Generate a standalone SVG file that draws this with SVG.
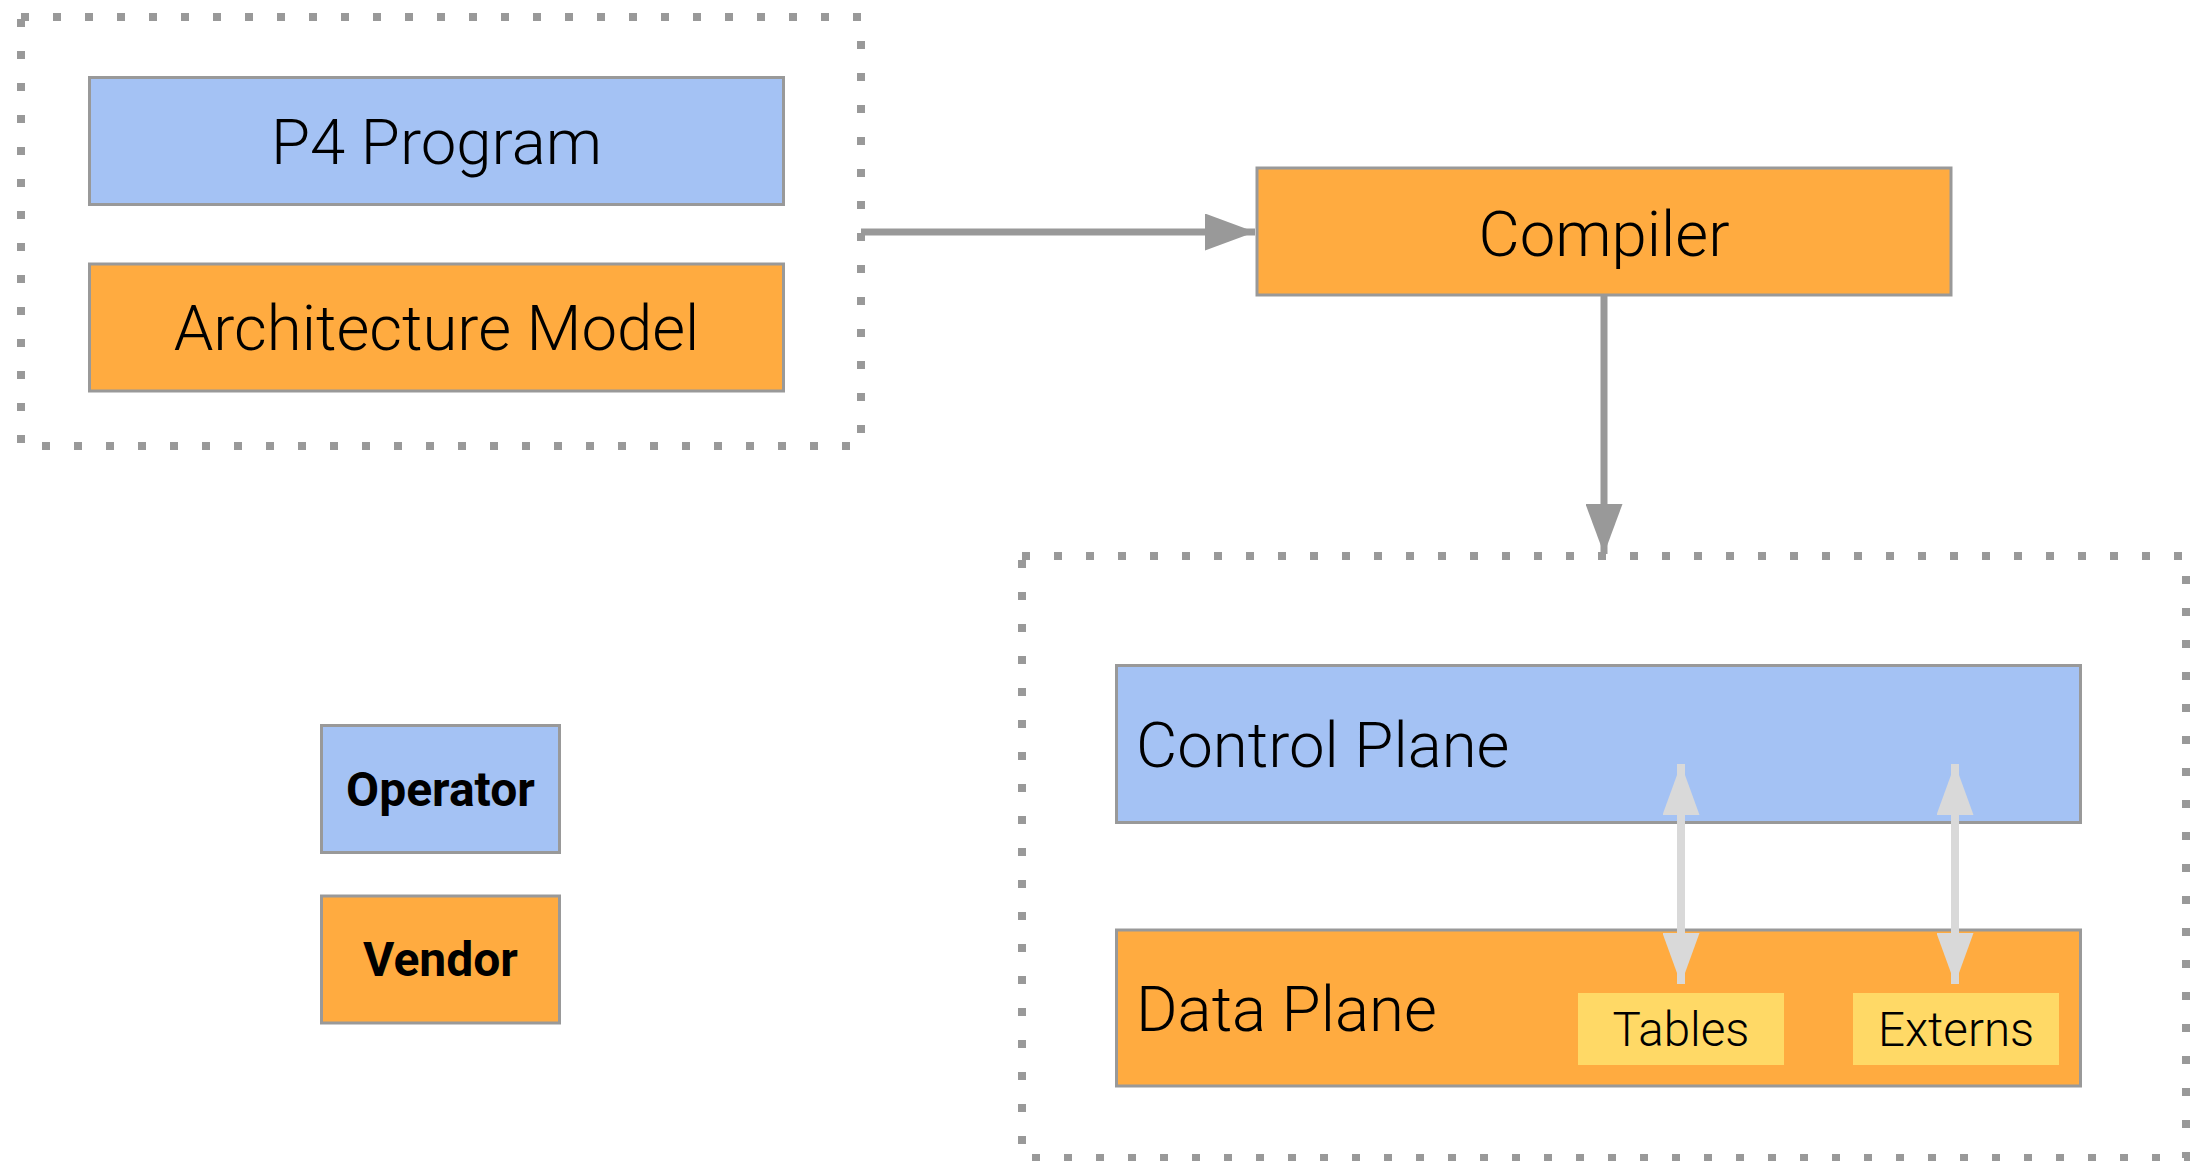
<svg xmlns="http://www.w3.org/2000/svg" width="2191" height="1161" viewBox="0 0 2191 1161">
<defs>
<style>
.box{stroke:#999999;stroke-width:3}
.blue{fill:#a4c2f4}
.orange{fill:#ffab40}
.yellow{fill:#ffd966}
.dotted{fill:none;stroke:#999999;stroke-width:8;stroke-dasharray:8 24}
.lbl{font-family:Roboto,"Liberation Sans",sans-serif;font-weight:300;fill:#000000}
.bold{font-family:Roboto,"Liberation Sans",sans-serif;font-weight:700;fill:#000000}
.conn{stroke:#999999;stroke-width:7;fill:none}
.light{stroke:#d9d9d9;stroke-width:8;fill:none}
</style>
<marker id="ah" viewBox="0 0 50 37" refX="50" refY="18.5" markerWidth="50" markerHeight="37" markerUnits="userSpaceOnUse" orient="auto">
<path d="M0,0 L50,18.5 L0,37 Z" fill="#999999"/>
</marker>
<marker id="lh" viewBox="0 0 51 37" refX="51" refY="18.5" markerWidth="51" markerHeight="37" markerUnits="userSpaceOnUse" orient="auto-start-reverse">
<path d="M0,0 L51,18.5 L0,37 Z" fill="#d9d9d9"/>
</marker>
</defs>
<rect width="2191" height="1161" fill="#ffffff"/>
<g id="group-inputs">
<rect class="dotted" x="21" y="17" width="840" height="429"/>
</g>
<g id="group-targets">
<rect class="dotted" x="1022" y="556" width="1164" height="602"/>
</g>
<g id="p4-program">
<rect class="box blue" x="89.5" y="77.5" width="694" height="127"/>
<text class="lbl" x="436.5" y="164" font-size="63.5" text-anchor="middle">P4 Program</text>
</g>
<g id="architecture-model">
<rect class="box orange" x="89.5" y="264" width="694" height="127"/>
<text class="lbl" x="436.5" y="350" font-size="63.5" text-anchor="middle">Architecture Model</text>
</g>
<g id="compiler">
<rect class="box orange" x="1257" y="168" width="694" height="127"/>
<text class="lbl" x="1604" y="256" font-size="63.5" text-anchor="middle">Compiler</text>
</g>
<g id="control-plane">
<rect class="box blue" x="1116.5" y="665.5" width="964" height="157"/>
<text class="lbl" x="1136" y="767" font-size="63.5">Control Plane</text>
</g>
<g id="data-plane">
<rect class="box orange" x="1116.5" y="930" width="964" height="156"/>
<text class="lbl" x="1136" y="1031" font-size="63.5">Data Plane</text>
</g>
<g id="tables">
<rect class="yellow" x="1578" y="993" width="206" height="72"/>
<text class="lbl" x="1681" y="1046" font-size="47.5" text-anchor="middle">Tables</text>
</g>
<g id="externs">
<rect class="yellow" x="1853" y="993" width="206" height="72"/>
<text class="lbl" x="1956" y="1046" font-size="47.5" text-anchor="middle">Externs</text>
</g>
<g id="legend-operator">
<rect class="box blue" x="321.5" y="725.5" width="238" height="127"/>
<text class="bold" x="440.5" y="806" font-size="48" text-anchor="middle">Operator</text>
</g>
<g id="legend-vendor">
<rect class="box orange" x="321.5" y="896" width="238" height="127"/>
<text class="bold" x="440.5" y="976" font-size="48" text-anchor="middle">Vendor</text>
</g>
<g id="connectors">
<line class="conn" x1="861" y1="232" x2="1255" y2="232" marker-end="url(#ah)"/>
<line class="conn" x1="1604" y1="295" x2="1604" y2="554" marker-end="url(#ah)"/>
<line class="light" x1="1681" y1="764" x2="1681" y2="984" marker-start="url(#lh)" marker-end="url(#lh)"/>
<line class="light" x1="1955" y1="764" x2="1955" y2="984" marker-start="url(#lh)" marker-end="url(#lh)"/>
</g>
</svg>
